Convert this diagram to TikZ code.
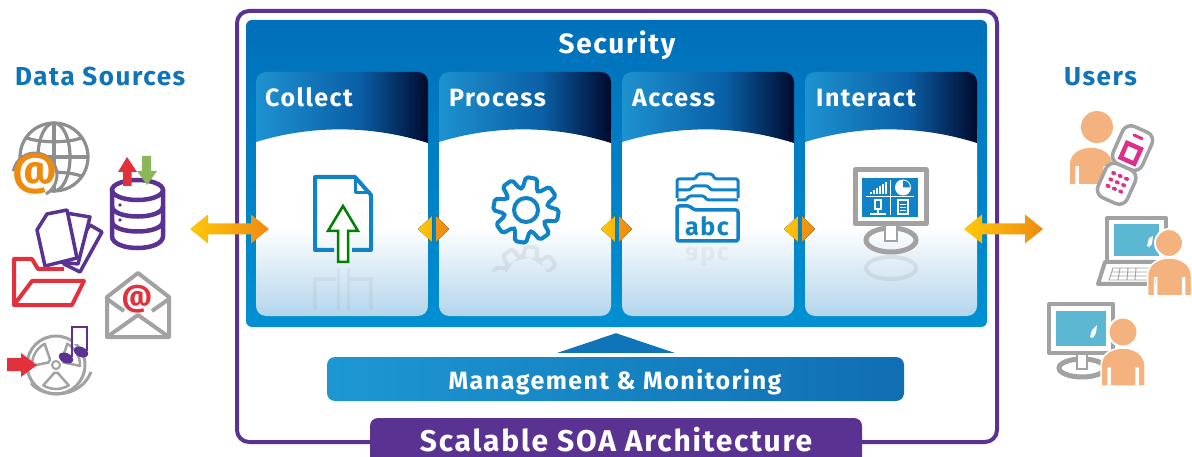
\documentclass[tikz,border=0pt]{standalone}
\usepackage{fontspec}
\setmainfont{Fira Sans}[LetterSpace=6]
\usetikzlibrary{shapes.geometric,calc}
\definecolor{soa}{HTML}{5A3392}
\definecolor{panelT}{HTML}{0070BA}
\definecolor{panelB}{HTML}{0090D2}
\definecolor{head}{HTML}{0F74B8}
\definecolor{iconb}{HTML}{0F82C8}
\definecolor{gry}{HTML}{A2A2A2}
\definecolor{gryd}{HTML}{8E8E8E}
\definecolor{redi}{HTML}{E2303C}
\definecolor{grn}{HTML}{8DB65A}
\definecolor{skin}{HTML}{F4B27E}
\definecolor{scr}{HTML}{5CB7D3}
\definecolor{pink}{HTML}{DE2F8C}
\definecolor{yel}{HTML}{FFC808}
\definecolor{ora}{HTML}{EE8A12}
\definecolor{orai}{HTML}{EE8A0E}
\definecolor{hA}{HTML}{1E92D0}
\definecolor{hB}{HTML}{0A5FA6}
\definecolor{hC}{HTML}{000A2E}
\definecolor{bB}{HTML}{B4D5EC}
\pgfdeclarehorizontalshading{hdrshade}{100bp}{color(0bp)=(hA); color(25bp)=(hA); color(55bp)=(hB); color(75bp)=(hC); color(100bp)=(hC)}
\pgfdeclareverticalshading{bodyshade}{100bp}{color(0bp)=(bB); color(25bp)=(bB); color(49bp)=(white); color(75bp)=(white); color(100bp)=(white)}
\tikzset{
  title/.style={font=\fontsize{25}{28}\selectfont\bfseries,text=white,inner sep=0pt},
  outer label/.style={font=\fontsize{26}{29}\selectfont\bfseries,text=head,inner sep=0pt},
  bigarrow/.style={left color=yel,right color=ora,draw=none},
  iconline/.style={draw=iconb,line width=4pt,line join=round},
  person/.pic={\fill[skin,draw=white,line width=1.5pt] (-22,38) -- (-22,18) .. controls (-22,5) and (-10,0) .. (0,0) .. controls (10,0) and (22,5) .. (22,18) -- (22,38) -- (15,38) -- (15,20) -- (13,20) -- (13,38) -- (-13,38) -- (-13,20) -- (-15,20) -- (-15,38) -- cycle;},
}
\newcommand{\gearpath}{(-9:22)
  \foreach \a in {10,55,...,325}{ -- ({\a-19}:22) -- ({\a-10}:33) -- ({\a+10}:33) -- ({\a+19}:22)} -- cycle}
\newcommand{\bigarrowpath}[2]{%
  \path[bigarrow] (#1) -- ++(18,-14.5) -- ++(0,9) -- ($(#2)+(-18,-5.5)$) -- ++(0,-9) -- (#2) -- ++(-18,14.5) -- ++(0,-9) -- ($(#1)+(18,5.5)$) -- ++(0,9) -- cycle;}
\newcommand{\carddraw}[5]{%
  \node[draw=none,minimum width=172pt,minimum height=244pt,inner sep=0pt] (#1) at (#2+86,194) {};
  \begin{scope}
    \clip[rounded corners=10pt] (#2,72) rectangle (#2+172,316);
    \shade[shading=bodyshade] (#2,130) rectangle (#2+172,316);
    \shade[shading=hdrshade] (#2,72) -- (#2+172,72) -- (#2+172,143) .. controls (#2+115,125) and (#2+55,125) .. (#2,142) -- cycle;
  \end{scope}
  \node[title,anchor=base west] (#1t) at (#2+#4,107) {#3};
}
\begin{document}
\begin{tikzpicture}[x=1pt,y=-1pt]
\useasboundingbox (0,0) rectangle (1192,457);
\begin{scope}
\clip (0,0) rectangle (1192,457);
\fill[white] (0,0) rectangle (1192,457);

% frame
\node[draw=soa,line width=4pt,rounded corners=12pt,minimum width=760pt,minimum height=431pt,inner sep=0pt] (frame) at (617,226.5) {};
% security panel
\shade[top color=panelT,bottom color=panelB,rounded corners=6pt] (246,20) rectangle (987,327);
\node[title,font=\fontsize{28}{30}\selectfont\bfseries,anchor=base] (security) at (617,54) {Security};

\carddraw{collect}{256}{Collect}{9}{}
\carddraw{process}{439}{Process}{10}{}
\carddraw{access}{622}{Access}{10}{}
\carddraw{interact}{805}{Interact}{11}{}

% --- Collect icon
\begin{scope}[opacity=.1]
  \draw[gryd,line width=4pt] (315,310) -- (315,279) -- (336,279);
  \draw[gryd,line width=4pt] (371,310) -- (371,279) -- (350,279);
  \draw[gryd,line width=3pt] (338,268) -- (338,310) (348,268) -- (348,310);
\end{scope}
\draw[iconline] (334,250) -- (315,250) -- (315,177) -- (355,177) -- (371,195) -- (371,250) -- (352,250);
\draw[iconb,line width=3pt,line join=round] (355,177) -- (355,193) -- (371,193);
\filldraw[fill=white,draw=green!50!black,line width=2.5pt,line join=miter] (343,206) -- (358,231) -- (348,231) -- (348,262) -- (338,262) -- (338,231) -- (328,231) -- cycle;

% --- Process icon
\begin{scope}[shift={(526,210)}]
  \draw[iconline,line width=4pt,rounded corners=2pt] \gearpath;
  \draw[iconline] (0,0) circle (12);
\end{scope}
\begin{scope}
  \clip (480,246) rectangle (570,272);
  \begin{scope}[shift={(526,279)},opacity=.16]
    \draw[gryd,line width=4pt,rounded corners=2pt] \gearpath;
  \end{scope}
\end{scope}

% --- Access icon
\begin{scope}[line join=round]
  \draw[iconb,line width=3pt,rounded corners=1.5pt] (677,198) -- (677,179) -- (695,179) -- (698,174) -- (712,174) -- (715,179) -- (738,179) -- (738,198);
  \draw[iconb,line width=3pt,rounded corners=1.5pt] (677,190) -- (690,190) -- (693,186) -- (708,186) -- (711,190) -- (738,190);
  \draw[iconb,line width=3pt,rounded corners=1.5pt] (677,200) -- (686,200) -- (689,196) -- (704,196) -- (707,200) -- (738,200);
  \filldraw[fill=white,draw=iconb,line width=3.5pt,rounded corners=2pt] (677,241) -- (677,206) -- (690,206) -- (694,210) -- (738,210) -- (738,241) -- cycle;
\end{scope}
\node[inner sep=0pt,text=iconb,font=\fontsize{25}{28}\selectfont\bfseries,anchor=base] (abc) at (707,236) {abc};
\node[inner sep=0pt,text=gryd,opacity=.1,font=\fontsize{25}{28}\selectfont\bfseries,anchor=base,yscale=-1] (abcr) at (707,248) {abc};

% --- Interact icon
\draw[gry,line width=4pt,opacity=.22] (891,268) ellipse (25 and 11);
\draw[gry,line width=5pt] (891,240) ellipse (25 and 12);
\fill[white] (886,225) rectangle (896,241);
\draw[gry,line width=2.5pt] (885,225) -- (885,241) -- (897,241) -- (897,225);
\filldraw[fill=white,draw=gry,line width=5pt,line join=round] (855,170) rectangle (926,224);
\fill[iconb] (862,178) rectangle (918,217);
\draw[white,line width=1pt] (866,197) -- (914,197) (890,180) -- (890,215);
\foreach \xx/\yy in {870/192,873/190,876/188,879/186,882/184,885/182}{\fill[white] (\xx,\yy) rectangle (\xx+1.8,194);}
\fill[white] (903,187.5) circle (8);
\fill[iconb] (903,187.5) -- (903,180.5) arc (-90:0:7) -- cycle;
\draw[white,line width=1.2pt] (875,200) rectangle (881,209) (878,209) -- (878,213) (870,214) -- (886,214);
\draw[white,line width=1.2pt] (898,200) rectangle (908,214);
\draw[white,line width=.7pt] (900,204) -- (906,204) (900,207) -- (906,207) (900,210) -- (906,210);

% management
\shade[left color=hA!95!cyan,right color=hB!70!hA,rounded corners=8pt] (327,357) rectangle (904,401);
\node[inner sep=0pt,text=white,font=\fontsize{25}{28}\selectfont\bfseries,anchor=base] (mgmt) at (615,389) {Management \& Monitoring};
\node[isosceles triangle,isosceles triangle apex angle=143,shape border rotate=90,draw=none,fill=head,inner sep=0pt,minimum width=117pt,minimum height=18pt,anchor=south] (uptri) at (616,353) {};
% SOA tab
\path[fill=soa,rounded corners=8pt] (370,470) rectangle (862,418);
\node[inner sep=0pt,text=white,font=\fontsize{30}{32}\selectfont\bfseries,anchor=base] (soa) at (616,451) {Scalable SOA Architecture};

% small gates
\foreach \n/\xa in {a/418,b/601,c/784}{
  \fill[left color=yel,right color=yel!70!ora] (\xa,229) -- (\xa+14,216) -- (\xa+14,242) -- cycle;
  \fill[left color=ora!80!yel,right color=ora] (\xa+18,216) -- (\xa+31,229) -- (\xa+18,242) -- cycle;
}
% big arrows
\coordinate (la) at (190,229);
\coordinate (lb) at (269,229);
\coordinate (ra) at (964,229);
\coordinate (rb) at (1043,229);
\bigarrowpath{la}{lb}
\bigarrowpath{ra}{rb}

% labels
\node[outer label,anchor=base west] (ds) at (15,86) {Data Sources};
\node[outer label,anchor=base west] (users) at (1064,86) {Users};

% globe
\begin{scope}[gryd,line width=3.2pt]
  \draw (54,157) circle (34);
  \draw (54,157) ellipse (16 and 34);
  \draw (54,123) -- (54,191);
  \draw (20,157) -- (88,157);
  \draw (27,138) .. controls (40,143) and (68,143) .. (81,138);
  \draw (27,176) .. controls (40,171) and (68,171) .. (81,176);
\end{scope}
\fill[white] (35,175) circle (23);
\draw[gryd,line width=3pt] (35,175) ++(190:22) arc[start angle=190,end angle=420,radius=22];
\node[inner sep=0pt,text=orai,font=\fontsize{44}{44}\selectfont\bfseries] (at1) at (35,174) {@};

% database
\begin{scope}[soa,line width=4.5pt]
  \draw[fill=white] (112,190) -- (112,236) .. controls (112,252) and (163,252) .. (163,236) -- (163,190);
  \draw (137.5,190) ellipse (25.5 and 10);
  \draw (112,206) .. controls (112,220) and (163,220) .. (163,206);
  \draw (112,221) .. controls (112,235) and (163,235) .. (163,221);
\end{scope}
\fill[soa] (120,205) circle (1.8) (120,220) circle (1.8);
\fill[redi] (127,157) -- (137,172) -- (131.5,172) -- (131.5,186) -- (123,186) -- (123,172) -- (118,172) -- cycle;
\fill[grn] (142,156) -- (151,156) -- (151,171) -- (157,171) -- (147,185) -- (137,171) -- (142,171) -- cycle;

% papers
\begin{scope}[soa,line width=3.5pt,line join=round]
  \filldraw[fill=white] (90,225) -- (102,232) -- (80,272) -- (64,264) -- cycle;
  \filldraw[fill=white] (66,213) -- (90,217) -- (78,264) -- (60,262) -- cycle;
  \filldraw[fill=white] (37,230) -- (47,214) -- (67,210) -- (77,258) -- (45,266) -- cycle;
\end{scope}

% folder
\draw[redi,line width=4pt,line join=round] (64,269) -- (38,269) -- (32,259) -- (14,259) -- (14,305) -- (72,305) -- (84,281) -- (32,281) -- (14,305);

% envelope
\begin{scope}[gry,line width=4pt,line join=round]
  \draw (107,297) -- (138,273) -- (169,297) -- (169,337) -- (107,337) -- cycle;
  \draw (107,337) -- (138,315) -- (169,337);
  \draw (107,299) -- (124,311) (169,299) -- (152,311);
\end{scope}
\node[inner sep=0pt,text=redi,font=\fontsize{30}{30}\selectfont\bfseries] (at2) at (137,299) {@};

% disc
\begin{scope}[gry,line width=2.5pt,line join=round]
  \draw[line width=3pt] (56,365) circle (29);
  \draw[line width=3pt] (31,383) .. controls (42,398) and (80,400) .. (91,372);
  \begin{scope}[shift={(56,365)}]
  \foreach \a in {-150,-30,90}{
    \draw (\a-12:8) -- (\a-32:24) arc[start angle=\a-32,end angle=\a+32,radius=24] -- (\a+12:8) -- cycle;
  }
  \draw[line width=2pt] (0,0) circle (4);
  \end{scope}
\end{scope}
\fill[redi] (7,358) -- (21,358) -- (21,353) -- (37,365) -- (21,377) -- (21,371) -- (7,371) -- cycle;
% note
\begin{scope}[soa]
  \fill[white] (73,329) rectangle (86,344);
  \draw[line width=2.4pt] (72,357) -- (72,327) -- (87,327) -- (87,351);
  \fill (66,358) ellipse [x radius=7.5,y radius=5,rotate=-25];
  \fill (81,352) ellipse [x radius=7.5,y radius=5,rotate=-25];
\end{scope}

% user 1
\pic at (1091,147) {person};
\fill[skin] (1097,127) circle (16);
\begin{scope}[shift={(1125,165)},rotate=-24]
  \filldraw[fill=white,draw=gry,line width=3.5pt,rounded corners=9pt] (-16,-39) rectangle (16,2);
  \filldraw[fill=white,draw=gry,line width=3.5pt,rounded corners=9pt] (-16,2) rectangle (16,39);
  \draw[pink,line width=4.5pt] (-7,-21) rectangle (8,-5);
  \draw[pink,line width=3pt,line cap=round] (-4,-31) -- (5,-31);
  \foreach \i in {-7,0,7}{\foreach \j in {12,19,26}{\fill[pink] (\i,\j) ellipse (2.6 and 2);}}
\end{scope}

% user 2
\filldraw[fill=white,draw=gry,line width=4pt,line join=round] (1107,218) rectangle (1166,262);
\fill[scr] (1114,224) rectangle (1159,256);
\fill[white] (1147,246) -- (1149,238) -- (1153,236) -- (1152,244) -- (1149,247) -- cycle;
\filldraw[fill=white,draw=gry,line width=4pt,line join=round] (1105,262) -- (1098,284) -- (1155,284) -- (1155,262) -- cycle;
\draw[gry,line width=.9pt] (1113,268) -- (1150,268) -- (1150,280) -- (1109,280) -- cycle (1112,272) -- (1150,272) (1110,276) -- (1150,276)
  (1120,268) -- (1118,280) (1128,268) -- (1127,280) (1136,268) -- (1135,280);
\pic at (1169.5,258) {person};
\filldraw[fill=skin,draw=white,line width=2pt] (1169,243) circle (14);

% user 3
\draw[gry,line width=5pt] (1082,368) ellipse (23 and 9);
\fill[white] (1077,354) rectangle (1087,370);
\draw[gry,line width=2.5pt] (1077,354) -- (1077,369) -- (1087,369) -- (1087,354);
\filldraw[fill=white,draw=gry,line width=4pt,line join=round] (1049,304) rectangle (1113,353);
\fill[scr] (1056,311) rectangle (1106,346);
\fill[white] (1090,337) -- (1092,330) -- (1097,325) -- (1096,333) -- (1093,338) -- cycle;
\pic at (1123,348) {person};
\filldraw[fill=skin,draw=white,line width=2pt] (1123,332) circle (14.5);
\end{scope}
\end{tikzpicture}
\end{document}
